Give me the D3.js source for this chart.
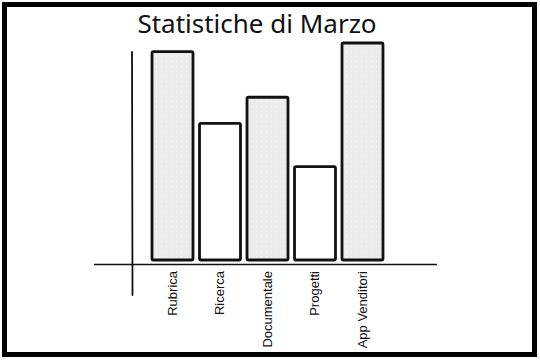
<!DOCTYPE html>
<html>
<head>
<meta charset="utf-8">
<script src="https://cdn.jsdelivr.net/npm/d3@7"></script>
<style>
  html, body { margin: 0; padding: 0; background: #fff; }
</style>
</head>
<body>
<div id="chart"></div>
<script>
// --- DATA ---
const title = "Statistiche di Marzo";
const categories = ["Rubrica", "Ricerca", "Documentale", "Progetti", "App Venditori"];
const values = [96, 63, 75, 43, 100];
const shaded = [true, false, true, false, true];

// --- SETUP ---
const width = 540;
const height = 360;

const svg = d3.select("#chart").append("svg")
    .attr("width", width)
    .attr("height", height)
    .style("display", "block");

// dotted light-grey fill
const defs = svg.append("defs");
const pat = defs.append("pattern")
    .attr("id", "dots")
    .attr("width", 5).attr("height", 5)
    .attr("patternUnits", "userSpaceOnUse");
pat.append("rect").attr("width", 5).attr("height", 5).attr("fill", "#ebebeb");
pat.append("circle").attr("cx", 1.5).attr("cy", 1.5).attr("r", 0.6).attr("fill", "#fafafa");

// outer frame
svg.append("rect")
    .attr("x", 4.5).attr("y", 4.5)
    .attr("width", 530).attr("height", 350)
    .attr("fill", "#fff")
    .attr("stroke", "#000")
    .attr("stroke-width", 5);

// title
svg.append("text")
    .attr("x", 257)
    .attr("y", 33)
    .attr("text-anchor", "middle")
    .style("font-family", "'Noto Sans', sans-serif")
    .style("font-size", "26px")
    .style("fill", "#111")
    .text(title);

// --- SCALES ---
const xScale = d3.scaleBand()
    .domain(categories)
    .range([148.75, 386.25])
    .paddingInner(0.137)
    .paddingOuter(0.0685);

const yScale = d3.scaleLinear()
    .domain([0, 100])
    .range([260, 43]);

// --- AXES (hand-drawn look, no ticks) ---
svg.append("line")
    .attr("x1", 94).attr("x2", 437)
    .attr("y1", 264.5).attr("y2", 264.5)
    .attr("stroke", "#111")
    .attr("stroke-width", 1.6);

svg.append("line")
    .attr("x1", 132).attr("x2", 132.5)
    .attr("y1", 52).attr("y2", 295)
    .attr("stroke", "#111")
    .attr("stroke-width", 1.8)
    .attr("stroke-linecap", "round");

// --- BARS ---
const data = categories.map((c, i) => ({ name: c, value: values[i], shaded: shaded[i] }));

svg.selectAll(".bar")
    .data(data).enter().append("rect")
    .attr("class", "bar")
    .attr("x", d => xScale(d.name))
    .attr("y", d => yScale(d.value))
    .attr("width", xScale.bandwidth())
    .attr("height", d => yScale(0) - yScale(d.value))
    .attr("rx", 1.5)
    .attr("fill", d => d.shaded ? "url(#dots)" : "#fff")
    .attr("stroke", "#111")
    .attr("stroke-width", 2.8)
    .attr("stroke-linejoin", "round");

// --- LABELS (rotated) ---
svg.selectAll(".label")
    .data(data).enter().append("text")
    .attr("class", "label")
    .attr("transform", d => `translate(${xScale(d.name) + xScale.bandwidth() / 2 + 4},271) rotate(-90)`)
    .attr("text-anchor", "end")
    .style("font-family", "'Liberation Sans', Arial, sans-serif")
    .style("font-size", "13px")
    .style("fill", "#111")
    .text(d => d.name);
</script>
</body>
</html>
